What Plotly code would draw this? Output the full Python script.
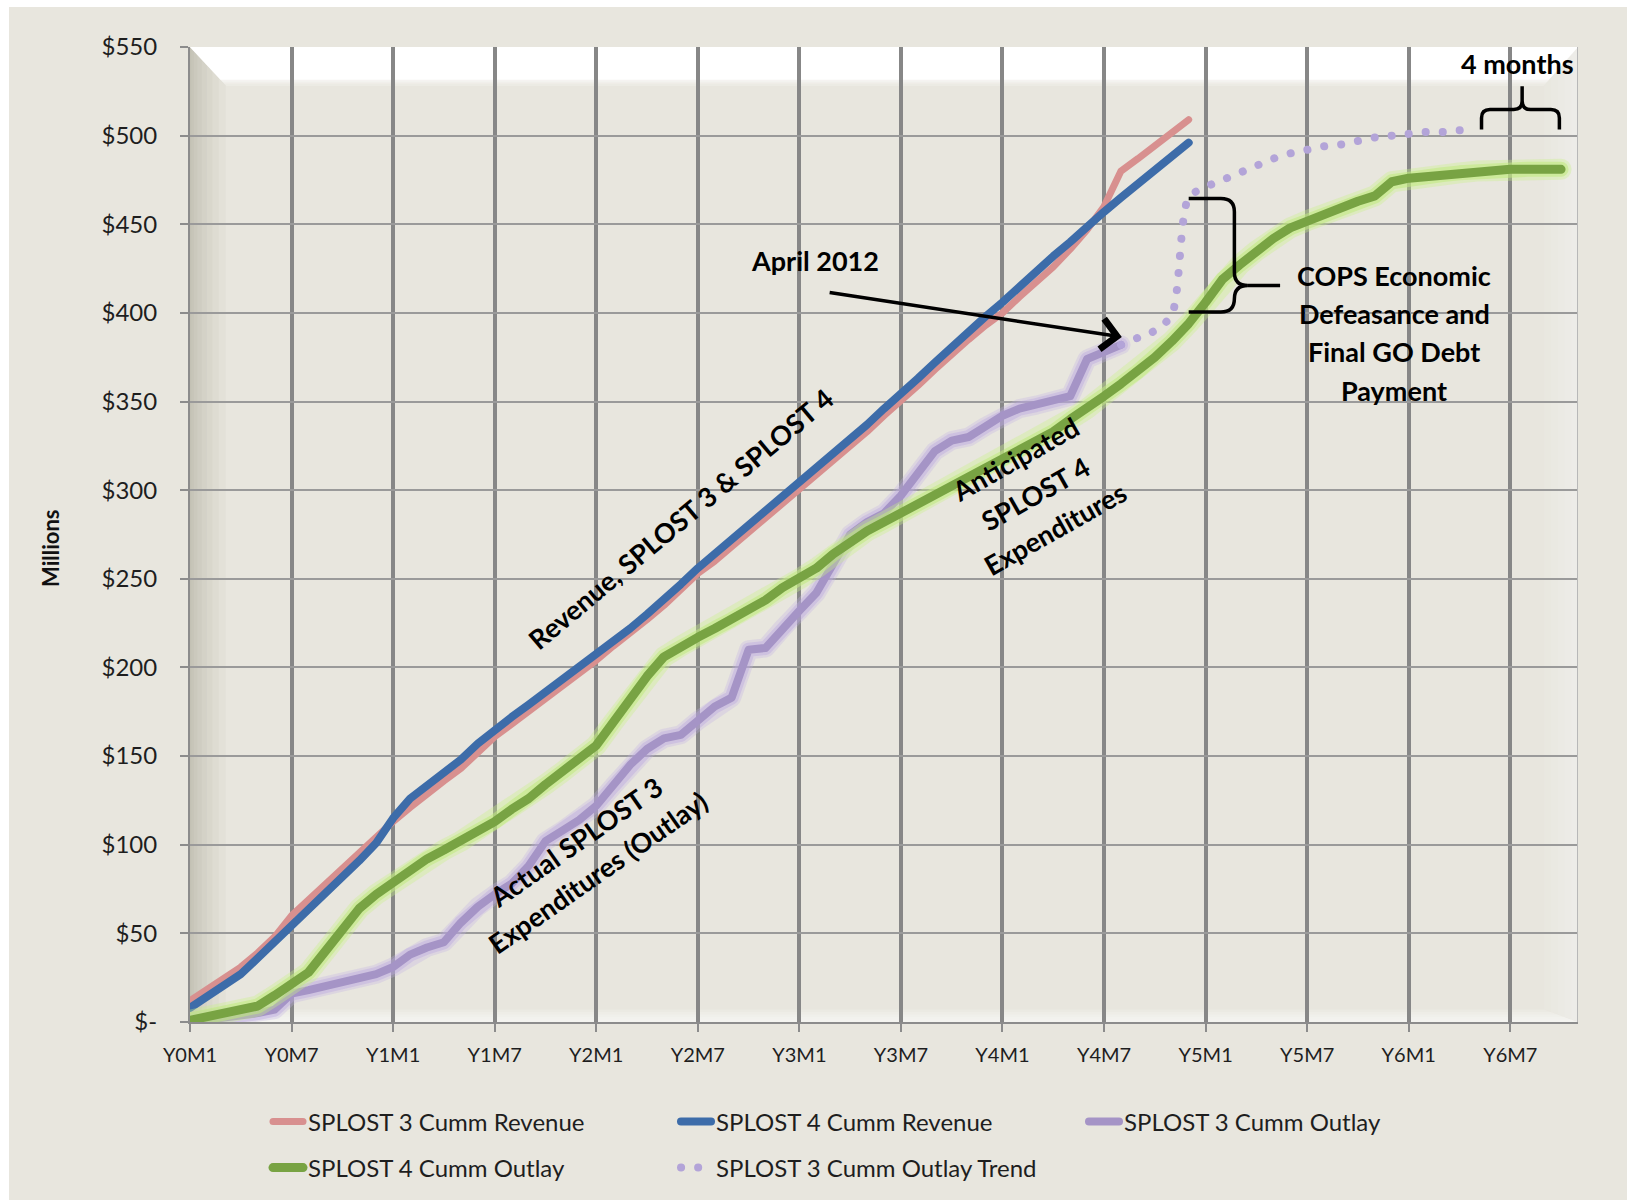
import math
import plotly.graph_objects as go

# ---------------- data ----------------
months = [f"Y{y}M{m}" for y in range(7) for m in range(1, 13)][:83]
tick_labels = ["Y0M1", "Y0M7", "Y1M1", "Y1M7", "Y2M1", "Y2M7", "Y3M1",
               "Y3M7", "Y4M1", "Y4M7", "Y5M1", "Y5M7", "Y6M1", "Y6M7"]
y_ticks = [0, 50, 100, 150, 200, 250, 300, 350, 400, 450, 500, 550]
y_tick_labels = ["$-", "$50", "$100", "$150", "$200", "$250", "$300",
                 "$350", "$400", "$450", "$500", "$550"]

s3_revenue = [12, 18, 25, 31, 39, 48, 60, 69, 78, 87,
              96, 105, 113, 121, 129, 136, 143, 152, 161, 168,
              175, 183, 190, 197, 204, 212, 219, 227, 235, 244,
              253, 260, 268, 276, 284, 292, 300, 308, 317, 325,
              333, 342, 350, 359, 368, 377, 385, 393, 400, 409,
              417, 426, 436, 447, 460, 480, 487, 494, 501, 509]
s4_revenue = [8, 14, 20, 27, 36, 45, 55, 64, 73, 82,
              91, 101, 115, 126, 133, 140, 148, 157, 165, 172,
              179, 186, 193, 200, 207, 215, 222, 230, 238, 247,
              256, 264, 272, 280, 288, 296, 304, 312, 321, 329,
              337, 346, 354, 363, 372, 381, 389, 398, 406, 415,
              424, 432, 440, 449, 457, 465, 473, 481, 489, 496]
s3_outlay = [0, 1, 2, 4, 5, 7, 16, 18, 20, 22,
             24, 27, 31, 38, 42, 45, 56, 65, 72, 78,
             88, 102, 108, 114, 122, 133, 145, 154, 160, 162,
             170, 178, 183, 210, 211, 222, 232, 242, 258, 275,
             282, 287, 297, 309, 322, 328, 330, 336, 342, 346,
             348, 351, 353, 374, 378, 382]
s4_outlay = [1, 3, 5, 7, 9, 15, 21, 28, 40, 53,
             64, 72, 79, 85, 92, 97, 102, 108, 113, 120,
             126, 134, 141, 148, 156, 169, 183, 195, 206, 212,
             217, 222, 227, 232, 238, 245, 250, 256, 264, 271,
             277, 282, 287, 292, 297, 302, 307, 312, 317, 322,
             327, 333, 340, 346, 353, 360, 367, 375, 384, 394,
             406, 419, 427, 435, 442, 448, 452, 456, 459, 463,
             466, 474, 476, 477, 478, 479, 480, 480, 481, 481,
             481, 481]
trend_start = "Y4M8"
s3_trend = [382, 386, 390, 399, 465, 471, 475, 479, 483, 487, 490,
            492, 494, 495, 497, 499, 500, 501, 502, 502, 503, 503]

# ---------------- geometry ----------------
W, H = 1629, 1202
L, R, T, B = 190, 1578, 47, 1022
PW, PH = R - L, B - T
XMAX = len(months) - 1
YMAX = y_ticks[-1]


def pxx(px):
    return (px - L) / PW


def pxy(py):
    return (B - py) / PH


def xs(series, start=0):
    return list(range(start, start + len(series)))


BG = "#E8E6DE"
FONT = "Lato"

fig = go.Figure()

# SPLOST 3 revenue
fig.add_trace(go.Scatter(x=xs(s3_revenue), y=s3_revenue, mode="lines",
                         name="SPLOST 3 Cumm Revenue",
                         line=dict(color="#D8908F", width=7), legend="legend"))
# SPLOST 4 revenue
fig.add_trace(go.Scatter(x=xs(s4_revenue), y=s4_revenue, mode="lines",
                         name="SPLOST 4 Cumm Revenue",
                         line=dict(color="#3D6CA9", width=8), legend="legend"))
# SPLOST 3 outlay (glow + line)
for w, c in [(19, "rgba(192,174,230,0.30)"), (14, "rgba(184,164,224,0.40)")]:
    fig.add_trace(go.Scatter(x=xs(s3_outlay), y=s3_outlay, mode="lines",
                             line=dict(color=c, width=w), showlegend=False,
                             hoverinfo="skip"))
fig.add_trace(go.Scatter(x=xs(s3_outlay), y=s3_outlay, mode="lines",
                         name="SPLOST 3 Cumm Outlay",
                         line=dict(color="#A594C6", width=8), legend="legend"))
# SPLOST 4 outlay (glow + line)
for w, c in [(21, "rgba(200,240,135,0.35)"), (15, "rgba(192,234,125,0.55)")]:
    fig.add_trace(go.Scatter(x=xs(s4_outlay), y=s4_outlay, mode="lines",
                             line=dict(color=c, width=w), showlegend=False,
                             hoverinfo="skip"))
fig.add_trace(go.Scatter(x=xs(s4_outlay), y=s4_outlay, mode="lines",
                         name="SPLOST 4 Cumm Outlay",
                         line=dict(color="#78A343", width=9), legend="legend2"))
# trend
fig.add_trace(go.Scatter(x=xs(s3_trend, months.index(trend_start)), y=s3_trend,
                         mode="lines", name="SPLOST 3 Cumm Outlay Trend",
                         line=dict(color="#B3A4D8", width=8, dash="dot",
                                   shape="spline", smoothing=0.8),
                         legend="legend2"))

# ---------------- decorative shapes ----------------
shapes = []
shapes.append(dict(type="rect", xref="paper", yref="paper",
                   x0=pxx(9), x1=pxx(W - 2), y0=pxy(H - 2), y1=pxy(7),
                   fillcolor=BG, line=dict(width=0), layer="below"))

bx, by, br, bb = 2.1, 21.5, 2.0, 7.0


def poly(pts):
    return "M " + " L ".join(f"{x:.3f},{y:.3f}" for x, y in pts) + " Z"


for k in range(1, 9):
    d = bx * (k / 8) ** 1.6
    shapes.append(dict(type="path", xref="x", yref="y", layer="below",
                       path=poly([(0, YMAX), (d, YMAX - by * d / bx),
                                  (d, bb * d / bx), (0, 0)]),
                       fillcolor="rgba(110,106,98,0.045)", line=dict(width=0)))
for k in range(1, 6):
    d = br * k / 5
    shapes.append(dict(type="path", xref="x", yref="y", layer="below",
                       path=poly([(XMAX, YMAX), (XMAX - d, YMAX - by * d / br),
                                  (XMAX - d, bb * d / br), (XMAX, 0)]),
                       fillcolor="rgba(255,255,255,0.08)", line=dict(width=0)))
for f, a in [(0.86, 1.0), (0.91, 0.3), (0.96, 0.25), (1.02, 0.2)]:
    shapes.append(dict(type="path", xref="x", yref="y", layer="below",
                       path=poly([(0, YMAX), (XMAX, YMAX),
                                  (XMAX - br * f, YMAX - by * f),
                                  (bx * f, YMAX - by * f)]),
                       fillcolor=f"rgba(255,255,255,{a})", line=dict(width=0)))
for k in range(1, 6):
    d = bb * k / 5
    shapes.append(dict(type="path", xref="x", yref="y", layer="below",
                       path=poly([(0, 0), (XMAX, 0), (XMAX - br * d / bb, d),
                                  (bx * d / bb, d)]),
                       fillcolor="rgba(255,255,255,0.16)", line=dict(width=0)))
# right edge of plot area
shapes.append(dict(type="line", xref="x", yref="y", x0=XMAX, x1=XMAX, y0=0,
                   y1=YMAX, line=dict(color="#B8B8B8", width=2), layer="above"))

# braces
brace_v = ("M 59,464.5 L 60.9,464.5 Q 61.7,464.5 61.7,457 L 61.7,423 "
           "Q 61.7,415.5 62.5,415.5 Q 61.7,415.5 61.7,408 "
           "Q 61.7,400.5 60.9,400.5 L 59,400.5")
shapes.append(dict(type="path", xref="x", yref="y", path=brace_v,
                   line=dict(color="black", width=3.5), layer="above"))
shapes.append(dict(type="line", xref="x", yref="y", x0=62.5, x1=64.4,
                   y0=415.5, y1=415.5, line=dict(color="black", width=3.5),
                   layer="above"))
brace_h = ("M 76.3,503.4 L 76.3,510 Q 76.3,514.7 76.8,514.7 L 78.2,514.7 "
           "Q 78.7,514.7 78.7,519.5 L 78.7,527.8 M 78.7,519.5 "
           "Q 78.7,514.7 79.2,514.7 L 80.4,514.7 Q 80.9,514.7 80.9,510 "
           "L 80.9,503.4")
shapes.append(dict(type="path", xref="x", yref="y", path=brace_h,
                   line=dict(color="black", width=3.5), layer="above"))

# ---------------- annotations ----------------
annotations = []


def text_block(lines, x, y, rot, spacing, size=27):
    n = len(lines)
    r = math.radians(rot)
    for i, s in enumerate(lines):
        off = (i - (n - 1) / 2) * spacing
        annotations.append(dict(
            x=x, y=y, xref="x", yref="y", text=f"<b>{s}</b>",
            showarrow=False, textangle=-rot, xanchor="center",
            yanchor="middle", xshift=off * math.sin(r),
            yshift=-off * math.cos(r),
            font=dict(family=FONT, size=size, color="black")))


text_block(["Revenue, SPLOST 3 &amp; SPLOST 4"], 29.0, 284, 40, 0)
text_block(["Actual SPLOST 3", "Expenditures (Outlay)"], 23.45, 93, 35, 37)
text_block(["Anticipated", "SPLOST 4", "Expenditures"], 49.96, 298, 29.5, 40)
text_block(["COPS Economic", "Defeasance and", "Final GO Debt", "Payment"],
           71.15, 388.8, 0, 38.4)
text_block(["April 2012"], 36.95, 429.7, 0, 0)
text_block(["4 months"], 78.4, 540.7, 0, 0)

annotations.append(dict(x=55.05, y=386.4, xref="x", yref="y", ax=37.7,
                        ay=411.6, axref="x", ayref="y", text="",
                        showarrow=True, arrowhead=4, arrowsize=1.7,
                        arrowwidth=3.5, arrowcolor="black", standoff=0))

# y-axis title placed as in the reference (slightly below plot centre)
annotations.append(dict(x=pxx(50), y=pxy(549), xref="paper", yref="paper",
                        text="<b>Millions</b>", showarrow=False, textangle=-90,
                        xanchor="center", yanchor="middle",
                        font=dict(family=FONT, size=22, color="#111111")))

# ---------------- layout ----------------
fig.update_layout(
    width=W, height=H, autosize=False,
    margin=dict(l=L, r=W - R, t=T, b=H - B, pad=0),
    paper_bgcolor="white", plot_bgcolor=BG,
    font=dict(family=FONT, color="#1E1E1E"),
    shapes=shapes, annotations=annotations,
    xaxis=dict(range=[0, XMAX], tickmode="array",
               tickvals=[months.index(t) for t in tick_labels],
               ticktext=tick_labels, showgrid=True, gridcolor="#878787",
               gridwidth=4, zeroline=False, showline=True,
               linecolor="#8C8C8C", linewidth=2, ticks="outside", ticklen=8,
               tickcolor="#8C8C8C", tickwidth=1.5, ticklabelstandoff=6,
               tickfont=dict(family=FONT, size=20, color="#1E1E1E"),
               fixedrange=True),
    yaxis=dict(range=[0, YMAX], tickmode="array", tickvals=y_ticks,
               ticktext=y_tick_labels, showgrid=True, gridcolor="#9A9A9A",
               gridwidth=2, zeroline=False, showline=True,
               linecolor="#8C8C8C", linewidth=2, ticks="outside", ticklen=8,
               tickcolor="#8C8C8C", tickwidth=1.5, ticklabelstandoff=18,
               tickfont=dict(family=FONT, size=24, color="#1E1E1E"),
               fixedrange=True),
    legend=dict(orientation="h", x=pxx(268), xanchor="left", y=pxy(1122),
                yanchor="middle", bgcolor="rgba(0,0,0,0)", borderwidth=0,
                entrywidth=363, entrywidthmode="pixels",
                font=dict(family=FONT, size=24, color="#1E1E1E")),
    legend2=dict(orientation="h", x=pxx(268), xanchor="left", y=pxy(1168),
                 yanchor="middle", bgcolor="rgba(0,0,0,0)", borderwidth=0,
                 entrywidth=363, entrywidthmode="pixels",
                 font=dict(family=FONT, size=24, color="#1E1E1E")),
    showlegend=True,
)

post = """
document.body.style.margin = '0';
document.body.style.padding = '0';
var gd = document.getElementById('{plot_id}');
gd.querySelectorAll('path.js-line').forEach(function(p){
  p.style.strokeLinejoin = 'round';
  p.style.strokeLinecap = 'round';
  var s = (p.style.stroke || '').replace(/\\s/g, '');
  if (s === 'rgb(179,164,216)') { p.style.strokeDasharray = '0.1px,17px'; }
});
"""

fig.write_html("out.html", post_script=post,
               config={"displayModeBar": False, "staticPlot": False})
